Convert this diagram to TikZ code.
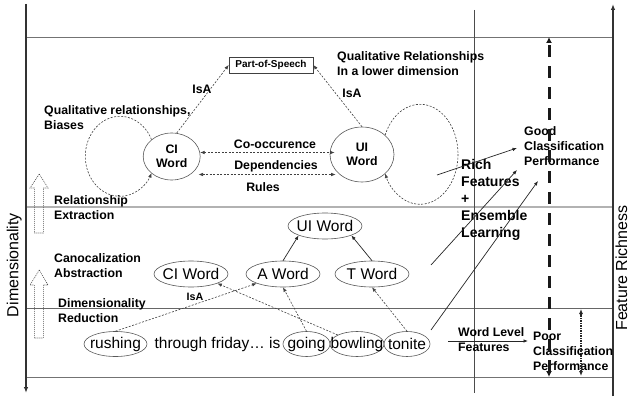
\documentclass[tikz,border=0pt]{standalone}
\usepackage{fontspec}
\setmainfont{Liberation Sans}
\usetikzlibrary{arrows.meta,shapes.geometric,calc}
\begin{document}
\begin{tikzpicture}[x=1pt,y=-1pt,
  lbl/.style={font=\bfseries\fontsize{12.3}{15}\selectfont, align=left, anchor=west, inner sep=0pt},
  lblc/.style={font=\bfseries\fontsize{12.3}{15}\selectfont, inner sep=0pt},
  wrd/.style={ellipse, draw=black!65, line width=0.6pt, font=\fontsize{15.5}{18}\selectfont, inner xsep=-20pt, inner ysep=0pt, minimum height=25pt},
  cat/.style={ellipse, draw=black!65, line width=0.6pt, font=\fontsize{15.5}{18}\selectfont, inner xsep=-3pt, inner ysep=0pt, minimum width=74pt, minimum height=26pt},
  big/.style={ellipse, draw=black!65, line width=0.6pt, font=\bfseries\fontsize{12.3}{14.5}\selectfont, align=center, inner sep=0pt},
  tip/.style={-{Latex[length=4.5pt,width=3.5pt]}},
  dd/.style={draw=black!75, line width=0.6pt, dash pattern=on 2pt off 1.5pt, {Latex[length=4.5pt,width=3.5pt]}-{Latex[length=4.5pt,width=3.5pt]}},
  da/.style={draw=black!75, line width=0.6pt, dash pattern=on 2pt off 1.5pt, tip},
  sa/.style={draw=black!85, line width=0.7pt, tip},
  blockarr/.style={draw=black!70, line width=0.6pt, dash pattern=on 1pt off 1pt},
]
\useasboundingbox[fill=white] (0,0) rectangle (631,398);

% grid lines
\draw[black!55, line width=0.9pt] (26,37) -- (613,37);
\draw[black!30, line width=2pt] (26,207) -- (613,207);
\draw[black!60, line width=0.8pt] (26,308) -- (613,308);
\draw[black!55, line width=0.8pt] (26,377) -- (613,377);
\draw[black!70, line width=0.7pt] (474,10) -- (474,393);

% axes
\coordinate (lat) at (26,4);
\coordinate (lab) at (26,393);
\coordinate (rab) at (613,396);
\coordinate (rat) at (613,4);
\draw[black!80, line width=1.8pt, -{Latex[length=6pt,width=4.5pt]}] (lat) -- (lab);
\draw[black!80, line width=1.8pt, -{Latex[length=6pt,width=4.5pt]}] (rab) -- (rat);
\node[rotate=90, font=\fontsize{16}{18}\selectfont, inner sep=0pt] (dim) at (14.2,265) {Dimensionality};
\node[rotate=90, font=\fontsize{16}{18}\selectfont, inner sep=0pt] (fr) at (621.5,268) {Feature Richness};

% block arrows
\draw[blockarr] (39.3,174) -- (48,188) -- (43.3,188) -- (43.3,233) -- (34.3,233) -- (34.3,188) -- (30,188) -- cycle;
\draw[blockarr] (39.3,270) -- (48,285) -- (43.3,285) -- (43.3,338) -- (34.3,338) -- (34.3,285) -- (30,285) -- cycle;

% left labels
\node[lbl] (qrb) at (44,117.5) {Qualitative relationships,\\Biases};
\node[lbl] (re) at (54,207.5) {Relationship\\Extraction};
\node[lbl] (ca) at (54,265.5) {Canocalization\\Abstraction};
\node[lbl] (dr) at (58,311) {Dimensionality\\Reduction};
\node[lbl] (qrl) at (337,63.5) {Qualitative Relationships\\In a lower dimension};

% upper graph
\node[draw=black!75, line width=0.6pt, font=\bfseries\fontsize{10}{12}\selectfont, minimum width=84pt, minimum height=16pt, inner sep=0pt] (pos) at (271,65) {Part-of-Speech};
\node[big, minimum width=57pt, minimum height=47pt] (cw) at (171.7,156.5) {CI\\Word};
\node[big, minimum width=64pt, minimum height=55pt] (ui) at (362,154.5) {UI\\Word};

\draw[da] (cw.78) -- (pos.west);
\draw[da] (ui.north) -- (pos.east);
\node[lblc] (isa1) at (202,89) {IsA};
\node[lblc] (isa2) at (352,93) {IsA};

\draw[dd] (cw.8) -- ([xshift=5pt]cw.8 -| ui.west);
\draw[dd] ([xshift=-2pt,yshift=-18pt]cw.east) -- ([xshift=6pt,yshift=-18pt]cw.east -| ui.west);
\node[lblc] (cooc) at (275,144) {Co-occurence};
\node[lblc] (dep) at (276,166) {Dependencies};
\node[lblc] (rul) at (263,187) {Rules};

\draw[da] (cw.140) arc[start angle=-24.8, end angle=-335.2, x radius=34.7, y radius=40];
\draw[da] (ui.40) arc[start angle=-157.4, end angle=157.4, x radius=37.9, y radius=50];

% lower graph
\node[cat] (uw) at (325,226) {UI Word};
\node[cat] (cw2) at (191,274) {CI Word};
\node[cat] (aw) at (283,274) {A Word};
\node[cat] (tw) at (372,274) {T Word};

\node[wrd, minimum width=63pt] (rush) at (115.5,344) {rushing};
\node[font=\fontsize{15.5}{18}\selectfont, inner sep=0pt] (thr) at (217.5,344) {through friday… is};
\node[wrd, minimum width=47pt] (go) at (306.5,344) {going};
\node[wrd, minimum width=54pt] (bow) at (357,344) {bowling};
\node[wrd, minimum width=46pt] (ton) at (407,344) {tonite};

\draw[sa] (aw.north) -- (uw.south west);
\draw[sa] (tw.north) -- (uw.south east);
\draw[da] (rush.north) -- (aw.south west);
\draw[da] (bow.north west) -- (cw2.south east);
\draw[da] (go.north) -- (aw.south);
\draw[da] (ton.north) -- (tw.south);
\node[font=\bfseries\fontsize{10.7}{12}\selectfont, inner sep=0pt] (isa3) at (195,297) {IsA};

% right labels
\node[lbl] (good) at (524,146) {Good\\Classification\\Performance};
\node[lbl, font=\bfseries\fontsize{14}{17}\selectfont] (rich) at (461,200) {Rich\\Features\\+\\Ensemble\\Learning};
\node[lbl] (wlf) at (458,340) {Word Level\\Features};
\node[lbl] (poor) at (533,351.5) {Poor\\Classification\\Performance};

\coordinate (r1) at (437,175);
\coordinate (r2) at (431,265);
\coordinate (r3) at (431,330);
\coordinate (wl) at (448,341);
\draw[sa] (r1) -- ([xshift=-7pt,yshift=-2pt]good.west);
\draw[sa] (r2) -- ([xshift=-7pt,yshift=-24pt]good.west);
\draw[sa] (r3) -- ([xshift=14pt,yshift=-35pt]good.west);
\draw[sa] (wl) -- ([xshift=-5pt,yshift=10.5pt]poor.west);

% vertical performance arrows
\coordinate (gt) at (549,37);
\coordinate (gb) at (549,377);
\draw[black!90, line width=3pt, dash pattern=on 12pt off 9pt, {Latex[length=6pt,width=6pt]}-{Latex[length=6pt,width=6pt]}] (gb) -- (gt);
\coordinate (pt) at (581,309);
\coordinate (pb) at (581,376);
\draw[black!85, line width=1.2pt, dash pattern=on 1.2pt off 1.3pt, {Latex[length=5pt,width=4pt]}-{Latex[length=5pt,width=4pt]}] (pb) -- (pt);
\end{tikzpicture}
\end{document}
